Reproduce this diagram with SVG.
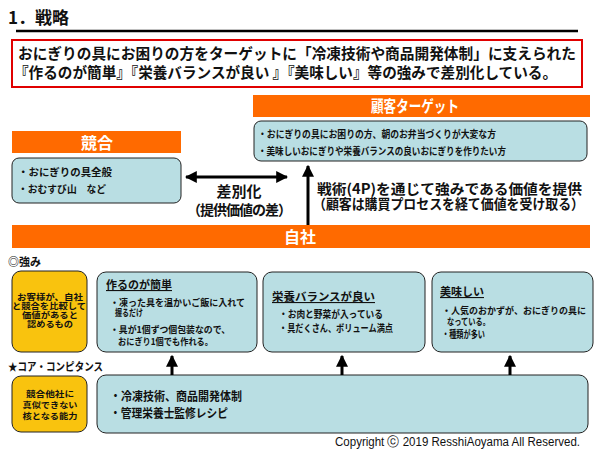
<svg xmlns="http://www.w3.org/2000/svg" width="600" height="450" viewBox="0 0 600 450">
<defs>
<style>
text{font-family:"Noto Sans CJK JP","Noto Sans",sans-serif;font-weight:bold;fill:#111}
.hdr{fill:#ff6a00}
.hdrt{fill:#fff;font-size:16px;text-anchor:middle}
.box{fill:#b9dee3;stroke:#222;stroke-width:1}
.ybox{fill:#f9c30e;stroke:#222;stroke-width:1}
.s{font-size:10px}
.t{font-size:9.5px}
.y{font-size:8.5px;text-anchor:middle}
.ln{stroke:#000;stroke-width:3;fill:none}
</style>
<marker id="ah" viewBox="0 0 10 10" refX="9" refY="5" markerWidth="4" markerHeight="4" orient="auto-start-reverse" markerUnits="strokeWidth">
<path d="M0,0 L10,5 L0,10 z" fill="#000"/>
</marker>
</defs>
<rect width="600" height="450" fill="#fff"/>

<g id="title">
<text x="8" y="24" font-size="17">1．戦略</text>
<line x1="16" y1="31" x2="578" y2="31" stroke="#000" stroke-width="2.5"/>
</g>

<g id="summary">
<rect x="12" y="40" width="570" height="47" fill="#fff" stroke="#e00000" stroke-width="2"/>
<text x="18" y="59" font-size="15" textLength="558" lengthAdjust="spacingAndGlyphs">おにぎりの具にお困りの方をターゲットに「冷凍技術や商品開発体制」に支えられた</text>
<text x="14" y="78" font-size="15" textLength="543" lengthAdjust="spacingAndGlyphs">『作るのが簡単』『栄養バランスが良い 』『美味しい』等の強みで差別化している。</text>
</g>

<g id="customer">
<rect class="hdr" x="253" y="95" width="337" height="22"/>
<text class="hdrt" x="415" y="112" textLength="88" lengthAdjust="spacingAndGlyphs">顧客ターゲット</text>
<rect class="box" x="254" y="121" width="333" height="40" rx="7"/>
<text class="s" x="258" y="138" textLength="238" lengthAdjust="spacingAndGlyphs">・おにぎりの具にお困りの方、朝のお弁当づくりが大変な方</text>
<text class="s" x="258" y="155" textLength="248" lengthAdjust="spacingAndGlyphs">・美味しいおにぎりや栄養バランスの良いおにぎりを作りたい方</text>
</g>

<g id="competitor">
<rect class="hdr" x="12" y="131" width="169" height="22"/>
<text class="hdrt" x="97" y="149">競合</text>
<rect class="box" x="12" y="158" width="169" height="45" rx="7"/>
<text class="s" x="18" y="176" textLength="94" lengthAdjust="spacingAndGlyphs">・おにぎりの具全般</text>
<text class="s" x="18" y="193" textLength="88" lengthAdjust="spacingAndGlyphs">・おむすび山　など</text>
</g>

<g id="jisha">
<rect class="hdr" x="12" y="225" width="578" height="23"/>
<text class="hdrt" x="300" y="243" font-size="17">自社</text>
</g>

<g id="labels">
<text x="8" y="266" font-size="11">◎強み</text>
<text x="8" y="371" font-size="11" textLength="95" lengthAdjust="spacingAndGlyphs">★コア・コンピタンス</text>
</g>

<g id="strength-def">
<rect class="ybox" x="12" y="271" width="75" height="81" rx="9"/>
<text class="y" x="50" y="300" textLength="66" lengthAdjust="spacingAndGlyphs">お客様が、自社</text>
<text class="y" x="49" y="309" textLength="74" lengthAdjust="spacingAndGlyphs">と競合を比較して</text>
<text class="y" x="50" y="318" textLength="56" lengthAdjust="spacingAndGlyphs">価値があると</text>
<text class="y" x="50" y="327" textLength="46" lengthAdjust="spacingAndGlyphs">認めるもの</text>
</g>

<g id="easy">
<rect class="box" x="97" y="272" width="160" height="80" rx="9"/>
<text x="106" y="289" font-size="11" text-decoration="underline">作るのが簡単</text>
<text class="t" x="110" y="306" textLength="135" lengthAdjust="spacingAndGlyphs">・凍った具を温かいご飯に入れて</text>
<text class="t" x="115" y="316" textLength="28" lengthAdjust="spacingAndGlyphs">握るだけ</text>
<text class="t" x="110" y="333" textLength="120" lengthAdjust="spacingAndGlyphs">・具が1個ずつ個包装なので、</text>
<text class="t" x="118" y="345" textLength="95" lengthAdjust="spacingAndGlyphs">おにぎり1個でも作れる。</text>
</g>

<g id="nutrition">
<rect class="box" x="263" y="272" width="162" height="80" rx="9"/>
<text x="272" y="301" font-size="11" text-decoration="underline" textLength="103" lengthAdjust="spacingAndGlyphs">栄養バランスが良い</text>
<text class="s" x="279" y="318" textLength="104" lengthAdjust="spacingAndGlyphs">・お肉と野菜が入っている</text>
<text class="s" x="279" y="332" textLength="114" lengthAdjust="spacingAndGlyphs">・具だくさん、ボリューム満点</text>
</g>

<g id="tasty">
<rect class="box" x="432" y="272" width="161" height="80" rx="9"/>
<text x="440" y="296" font-size="11" text-decoration="underline">美味しい</text>
<text class="t" x="442" y="314" textLength="144" lengthAdjust="spacingAndGlyphs">・人気のおかずが、おにぎりの具に</text>
<text class="t" x="447" y="325" textLength="43" lengthAdjust="spacingAndGlyphs">なっている。</text>
<text class="s" x="442" y="338" textLength="43" lengthAdjust="spacingAndGlyphs">・種類が多い</text>
</g>

<g id="core-def">
<rect class="ybox" x="12" y="376" width="75" height="56" rx="9"/>
<text class="y" x="50" y="397" font-size="9.5" textLength="48" lengthAdjust="spacingAndGlyphs">競合他社に</text>
<text class="y" x="50" y="408" font-size="9.5" textLength="55" lengthAdjust="spacingAndGlyphs">真似できない</text>
<text class="y" x="50" y="419" font-size="9.5" textLength="55" lengthAdjust="spacingAndGlyphs">核となる能力</text>
</g>

<g id="core">
<rect class="box" x="97" y="375" width="491" height="58" rx="9"/>
<text x="110" y="401" font-size="12" textLength="132" lengthAdjust="spacingAndGlyphs">・冷凍技術、商品開発体制</text>
<text x="110" y="418" font-size="12" textLength="118" lengthAdjust="spacingAndGlyphs">・管理栄養士監修レシピ</text>
</g>

<g id="connectors">
<line class="ln" x1="186" y1="177" x2="287" y2="177" marker-start="url(#ah)" marker-end="url(#ah)"/>
<line class="ln" x1="308" y1="225" x2="308" y2="166" marker-end="url(#ah)"/>
<line class="ln" x1="172" y1="375" x2="172" y2="356" marker-end="url(#ah)"/>
<line class="ln" x1="342" y1="375" x2="342" y2="356" marker-end="url(#ah)"/>
<line class="ln" x1="510" y1="375" x2="510" y2="356" marker-end="url(#ah)"/>
</g>

<g id="connector-labels">
<text x="239" y="197" font-size="15" text-anchor="middle">差別化</text>
<text x="187" y="215" font-size="14" textLength="105" lengthAdjust="spacing">（提供価値の差）</text>
<text x="317" y="194" font-size="14" textLength="265" lengthAdjust="spacingAndGlyphs">戦術(4P)を通じて強みである価値を提供</text>
<text x="313" y="209" font-size="14" textLength="271" lengthAdjust="spacingAndGlyphs">（顧客は購買プロセスを経て価値を受け取る）</text>
</g>

<g id="copyright">
<text x="335" y="446" font-size="12.5" style="font-family:'Liberation Sans','Noto Sans',sans-serif;font-weight:normal" textLength="245" lengthAdjust="spacingAndGlyphs">Copyright ⓒ 2019 ResshiAoyama All  Reserved.</text>
</g>
</svg>
